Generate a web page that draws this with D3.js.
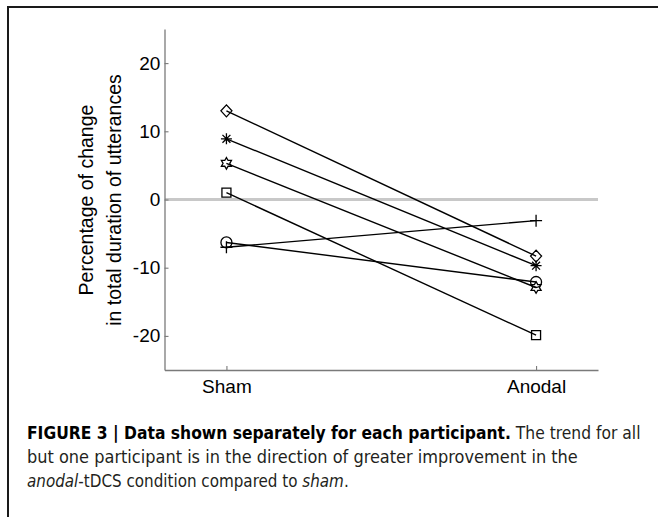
<!DOCTYPE html>
<html><head><meta charset="utf-8">
<script src="https://cdn.jsdelivr.net/npm/d3@7"></script>
<style>body{margin:0;background:#fff}svg{display:block}</style>
</head><body>
<svg id="c" width="658" height="517"></svg>
<script>
const conditions = ["Sham", "Anodal"];
const markers = ["diamond", "asterisk", "hexagram", "square", "circle", "plus"];
const shamValues = [13, 8.9, 5.3, 1, -6.3, -7];
const anodalValues = [-8.3, -9.7, -12.9, -19.9, -12.1, -3.1];
const yTicks = [-20, -10, 0, 10, 20];
const yLabelLines = ["Percentage of change", "in total duration of utterances"];

const svg = d3.select("#c");
const font = "'Liberation Sans', Arial, Helvetica, sans-serif";

// frame
svg.append("rect").attr("x", 8).attr("y", 7).attr("width", 700).attr("height", 600)
  .attr("fill", "none").attr("stroke", "#1a1a1a").attr("stroke-width", 2);

const x = d3.scalePoint().domain(conditions).range([164.5, 598]).padding(0.2);
const y = d3.scaleLinear().domain([-25, 25]).range([370, 29]);

// zero line
svg.append("line").attr("x1", 165).attr("x2", 598).attr("y1", y(0)).attr("y2", y(0))
  .attr("stroke", "#c8c8c8").attr("stroke-width", 3);

const axisColor = "#7a7a7a";
const yAxis = svg.append("g").attr("transform", "translate(164.5,0)")
  .call(d3.axisLeft(y).tickValues(yTicks).tickSizeInner(-4).tickSizeOuter(0).tickPadding(8).tickFormat(d => String(d)));
const xAxis = svg.append("g").attr("transform", "translate(0,370)")
  .call(d3.axisBottom(x).tickSizeInner(-4).tickSizeOuter(0).tickPadding(9));
[yAxis, xAxis].forEach(a => {
  a.attr("font-family", font).attr("font-size", 19);
  a.select(".domain").attr("stroke", axisColor).attr("stroke-width", 1.3);
  a.selectAll(".tick line").attr("stroke", axisColor).attr("stroke-width", 1.1);
  a.selectAll("text").attr("fill", "#000");
});
yAxis.selectAll("text").attr("dx", "0.2em");
xAxis.selectAll("text").attr("dy", "0.72em");

// y label
const yl = svg.append("text").attr("transform", "translate(0,200) rotate(-90)")
  .attr("text-anchor", "middle").attr("font-family", font).attr("font-size", 19.5).attr("fill", "#000");
yl.selectAll("tspan").data(yLabelLines).join("tspan")
  .attr("x", 0).attr("y", (d, i) => 93 + i * 28).text(d => d);

// lines
const data = markers.map((m, i) => ({ m, vals: [shamValues[i], anodalValues[i]] }));
const line = d3.line().x((d, i) => x(conditions[i])).y(d => y(d));
svg.append("g").selectAll("path").data(data).join("path")
  .attr("d", d => line(d.vals)).attr("fill", "none").attr("stroke", "#000").attr("stroke-width", 1.4);

function markerPath(m) {
  const p = d3.path();
  if (m === "diamond") { p.moveTo(0, -6); p.lineTo(5.5, 0); p.lineTo(0, 6); p.lineTo(-5.5, 0); p.closePath(); }
  else if (m === "square") { p.rect(-4.5, -4.5, 9, 9); }
  else if (m === "circle") { p.arc(0, 0, 5.5, 0, 2 * Math.PI); p.closePath(); }
  else if (m === "plus") { p.moveTo(-6, 0); p.lineTo(6, 0); p.moveTo(0, -6); p.lineTo(0, 6); }
  else if (m === "asterisk") {
    const r = 5.5, q = r * 0.72;
    p.moveTo(-r, 0); p.lineTo(r, 0); p.moveTo(0, -r); p.lineTo(0, r);
    p.moveTo(-q, -q); p.lineTo(q, q); p.moveTo(-q, q); p.lineTo(q, -q);
  } else if (m === "hexagram") {
    const R = 5.8, r = R / Math.sqrt(3);
    for (let k = 0; k < 12; k++) {
      const a = -Math.PI / 2 + k * Math.PI / 6;
      const rr = k % 2 === 0 ? R : r;
      const px = rr * Math.cos(a), py = rr * Math.sin(a);
      if (k === 0) p.moveTo(px, py); else p.lineTo(px, py);
    }
    p.closePath();
  }
  return p.toString();
}
const pts = [];
data.forEach(d => d.vals.forEach((v, i) => pts.push({ m: d.m, cx: x(conditions[i]), cy: y(v) })));
svg.append("g").selectAll("path").data(pts).join("path")
  .attr("transform", d => `translate(${d.cx},${d.cy})`)
  .attr("d", d => markerPath(d.m)).attr("fill", "none").attr("stroke", "#000").attr("stroke-width", 1.3);

// caption
const capFont = "'Liberation Sans Narrow', 'DejaVu Sans Condensed', 'Liberation Sans', Arial, sans-serif";
const capLines = [
  { y: 439, w: 614, parts: [
    { t: "FIGURE 3 | Data shown separately for each participant.", b: true },
    { t: " The trend for all" }] },
  { y: 463, w: 551, parts: [{ t: "but one participant is in the direction of greater improvement in the" }] },
  { y: 487, w: 322, parts: [{ t: "anodal", i: true }, { t: "-tDCS condition compared to " }, { t: "sham", i: true }, { t: "." }] }
];
capLines.forEach(L => {
  const g = svg.append("g");
  const t = g.append("text").attr("x", 0).attr("y", 0).attr("font-family", capFont).attr("font-size", 18.5).attr("fill", "#231f20");
  L.parts.forEach(p => t.append("tspan").text(p.t)
    .attr("font-weight", p.b ? "bold" : "normal").attr("font-style", p.i ? "italic" : "normal")
    .attr("fill", p.b ? "#000" : "#231f20"));
  const w = t.node().getComputedTextLength();
  g.attr("transform", `translate(27,${L.y}) scale(${L.w / w},1)`);
});
</script>
</body></html>
